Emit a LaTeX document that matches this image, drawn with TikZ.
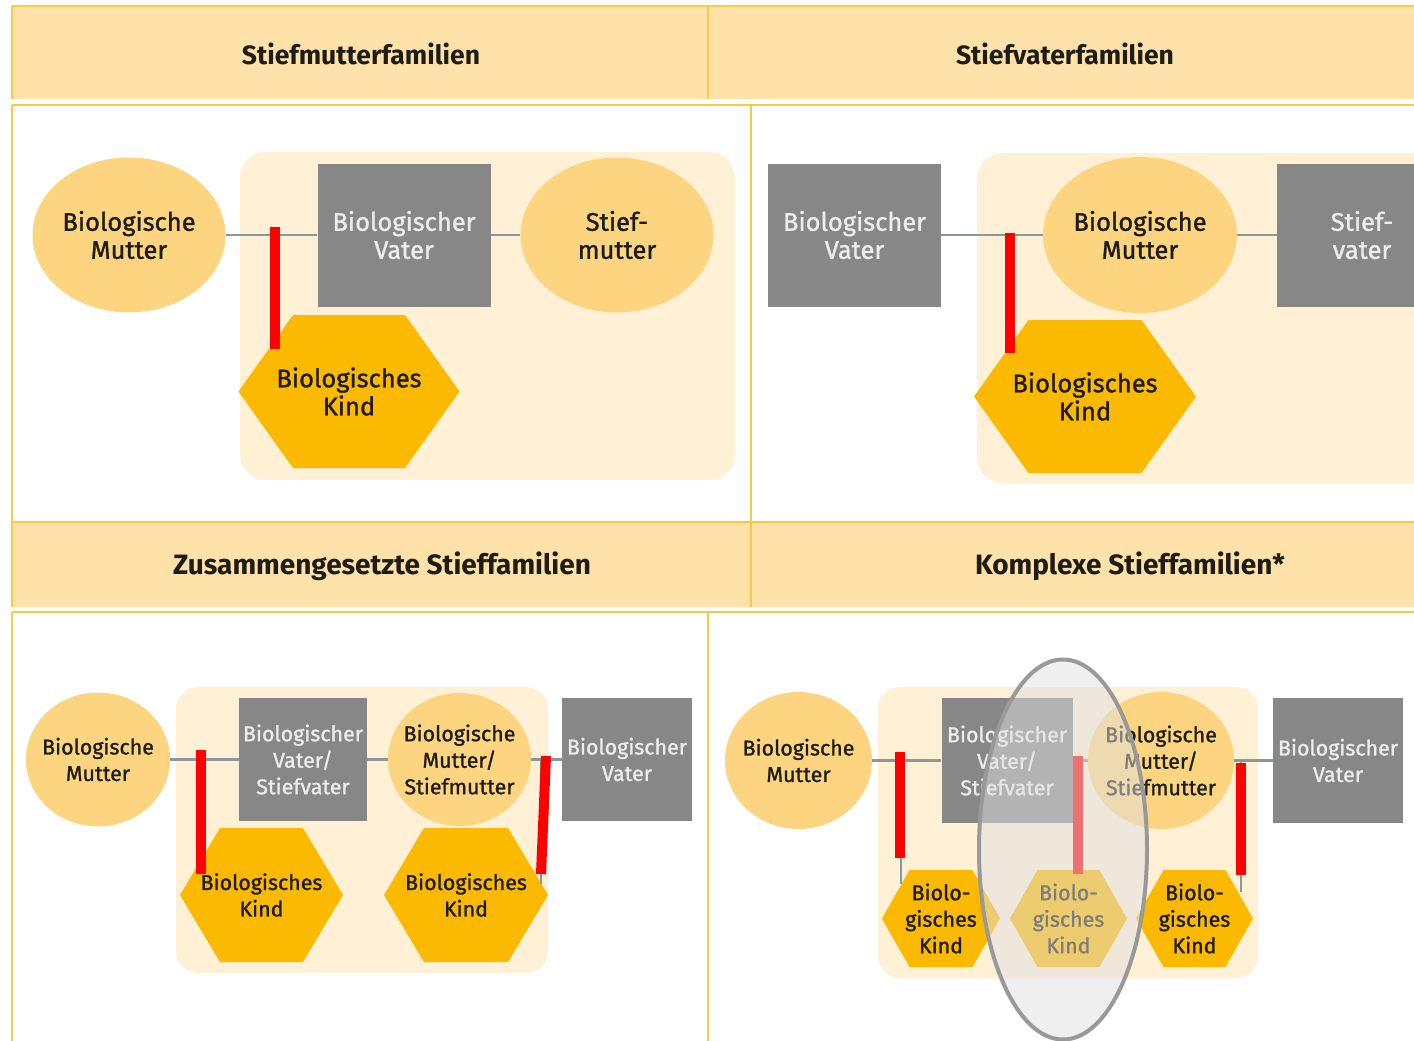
\documentclass[tikz,border=0pt]{standalone}
\usepackage{fontspec}
\setmainfont{Fira Sans}[FakeBold=1.2]
\newfontfamily\titelfont{Fira Sans}
\usetikzlibrary{shapes.geometric,calc}

\definecolor{cRahmen}{RGB}{252,200,70}
\definecolor{cKopf}{RGB}{254,226,170}
\definecolor{cFamilie}{RGB}{255,240,214}
\definecolor{cFrau}{RGB}{253,213,128}
\definecolor{cKind}{RGB}{251,185,0}
\definecolor{cMann}{RGB}{135,135,135}
\definecolor{cMannText}{RGB}{236,236,236}
\definecolor{cLinie}{RGB}{140,150,157}
\definecolor{cText}{RGB}{30,28,20}

\newcommand{\schriftgross}{\fontsize{25.5}{28}\selectfont}
\newcommand{\schriftklein}{\fontsize{21.4}{26.5}\selectfont}

\tikzset{
    gitter/.style={draw=cRahmen, line width=2pt},
    titel/.style={font=\titelfont\bfseries\fontsize{26.5}{28}\selectfont, text=cText},
    familienbox/.style={fill=cFamilie, rounded corners=26pt},
    frau/.style={ellipse, fill=cFrau, inner xsep=-15pt, inner ysep=0pt, align=center, text=cText},
    mann/.style={rectangle, fill=cMann, inner sep=0pt, align=center, text=cMannText},
    kindhex/.style={rectangle, inner sep=0pt, align=center, text=cText,
        path picture={
            \fill[cKind] (path picture bounding box.west)
                -- ($(path picture bounding box.north west)+(#1,0)$)
                -- ($(path picture bounding box.north east)+(-#1,0)$)
                -- (path picture bounding box.east)
                -- ($(path picture bounding box.south east)+(-#1,0)$)
                -- ($(path picture bounding box.south west)+(#1,0)$)
                -- cycle;
        }},
    ehe/.style={draw=cLinie, line width=2.5pt},
    abstammung/.style={draw=cLinie, line width=1.5pt},
    markiert/.style={draw=red, line width=10pt},
    schleier/.style={ellipse, draw=black!40, line width=4pt, fill=black!12, fill opacity=0.5},
}

\begin{document}
\begin{tikzpicture}[x=1pt, y=-1pt]
    \useasboundingbox (0,0) rectangle (1414,1041);
    \clip (0,0) rectangle (1414,1041);
    \fill[white] (0,0) rectangle (1414,1041);

    \fill[cKopf] (12,6) rectangle (1414,99);
    \fill[cKopf] (12,522) rectangle (1414,607);
    \draw[gitter] (12,6) -- (1414,6);
    \draw[gitter] (12,105) -- (1414,105);
    \draw[gitter] (12,522) -- (1414,522);
    \draw[gitter] (12,612) -- (1414,612);
    \draw[gitter] (12,6) -- (12,99);
    \draw[gitter] (12,105) -- (12,607);
    \draw[gitter] (12,612) -- (12,1041);
    \draw[gitter] (708,6) -- (708,99);
    \draw[gitter] (751,105) -- (751,607);
    \draw[gitter] (708,612) -- (708,1041);

    \node[titel] (kopf-sm) at (361,54) {Stiefmutterfamilien};
    \node[titel] (kopf-sv) at (1065,54) {Stiefvaterfamilien};
    \node[titel, font=\titelfont\bfseries\fontsize{28}{30}\selectfont] (kopf-zs) at (382,566) {Zusammengesetzte Stieffamilien};
    \node[titel, font=\titelfont\bfseries\fontsize{28}{30}\selectfont] (kopf-ks) at (1130,566) {Komplexe Stieffamilien*};

    \begin{scope}[name prefix = sm-, font=\schriftgross]
        \fill[familienbox] (240,152) rectangle (735,480);
        \node[frau, minimum width=193pt, minimum height=155pt] (mutter) at (129,235) {Biologische\\Mutter};
        \node[mann, minimum width=173pt, minimum height=143pt] (vater) at (404,235) {Biologischer\\Vater};
        \node[frau, minimum width=193pt, minimum height=155pt] (stief) at (617,235) {Stief-\\mutter};
        \node[kindhex=54.5, minimum width=221pt, minimum height=153pt] (kind) at (349,391.5) {Biologisches\\Kind};
        \coordinate (ast) at (275,227);
        \coordinate (astende) at (275,349);
        \draw[ehe] (mutter) -- (vater);
        \draw[ehe] (vater) -- (stief);
        \draw[markiert] (ast) -- (astende);
    \end{scope}

    \begin{scope}[name prefix = sv-, font=\schriftgross]
        \fill[familienbox] (977,153) rectangle (1460,483);
        \node[mann, minimum width=173pt, minimum height=143pt] (vater) at (854.5,235) {Biologischer\\Vater};
        \node[frau, minimum width=194pt, minimum height=156pt] (mutter) at (1140,235) {Biologische\\Mutter};
        \node[mann, minimum width=170pt, minimum height=143pt] (stief) at (1362,235) {Stief-\\vater};
        \node[kindhex=54.5, minimum width=222pt, minimum height=153pt] (kind) at (1085,396.5) {Biologisches\\Kind};
        \coordinate (ast) at (1010,233);
        \coordinate (astende) at (1010,353);
        \draw[ehe] (vater) -- (mutter);
        \draw[ehe] (mutter) -- (stief);
        \draw[markiert] (ast) -- (astende);
    \end{scope}

    \begin{scope}[name prefix = zs-, font=\schriftklein]
        \fill[familienbox, rounded corners=22pt] (176,687) rectangle (548,973);
        \node[frau, minimum width=144pt, minimum height=134pt] (mutter) at (98,759.5) {Biologische\\Mutter};
        \node[mann, minimum width=128pt, minimum height=123pt] (vater) at (303,759.5) {Biologischer\\Vater/\\Stiefvater};
        \node[frau, minimum width=143pt, minimum height=133pt] (stief) at (459.5,759.5) {Biologische\\Mutter/\\Stiefmutter};
        \node[mann, minimum width=130pt, minimum height=123pt] (vater2) at (627,759.5) {Biologischer\\Vater};
        \node[kindhex=40, minimum width=163pt, minimum height=134pt] (kind1) at (261.5,895) {Biologisches\\Kind};
        \node[kindhex=40, minimum width=164pt, minimum height=134pt] (kind2) at (466,895) {Biologisches\\Kind};
        \coordinate (ast1) at (201,750);
        \coordinate (ast1ende) at (201,874);
        \coordinate (ast2) at (541,759.5);
        \coordinate (ast2ende) at (541,884);
        \draw[ehe] (mutter) -- (vater);
        \draw[ehe] (vater) -- (stief);
        \draw[ehe] (stief) -- (vater2);
        \draw[abstammung] (ast2) -- (ast2ende);
        \draw[markiert] (ast1) -- (ast1ende);
        \draw[markiert] (546,756) -- (541,874);
    \end{scope}

    \begin{scope}[name prefix = ks-, font=\schriftklein]
        \fill[familienbox, rounded corners=22pt] (878,687) rectangle (1258,978);
        \node[frau, minimum width=147pt, minimum height=137pt] (mutter) at (798.5,760.5) {Biologische\\Mutter};
        \node[mann, minimum width=131pt, minimum height=125pt] (vater) at (1007,760.5) {Biologischer\\Vater/\\Stiefvater};
        \node[frau, minimum width=146pt, minimum height=137pt] (stief) at (1161,760.5) {Biologische\\Mutter/\\Stiefmutter};
        \node[mann, minimum width=130pt, minimum height=125pt] (vater2) at (1338,760.5) {Biologischer\\Vater};
        \node[kindhex=27.5, minimum width=118pt, minimum height=97pt] (kind1) at (941,918.5) {Biolo-\\gisches\\Kind};
        \node[kindhex=27.5, minimum width=117pt, minimum height=97pt] (kind2) at (1068.5,918.5) {Biolo-\\gisches\\Kind};
        \node[kindhex=27.5, minimum width=117pt, minimum height=97pt] (kind3) at (1194.5,918.5) {Biolo-\\gisches\\Kind};
        \coordinate (ast1) at (901,760.5);
        \coordinate (ast1ende) at (901,884);
        \coordinate (ast3) at (1241,760.5);
        \coordinate (ast3ende) at (1241,892);
        \draw[ehe] (mutter) -- (vater);
        \draw[ehe] (vater) -- (stief);
        \draw[ehe] (stief) -- (vater2);
        \draw[abstammung] (ast1) -- (ast1ende);
        \draw[abstammung] (ast3) -- (ast3ende);
        \draw[markiert] (900,752) -- (900,858);
        \draw[markiert] (1078,756) -- (1078,874);
        \draw[markiert] (1241,763) -- (1241,875);
        \node[schleier, minimum width=168pt, minimum height=380pt] (fokus) at (1063,849.5) {};
    \end{scope}
\end{tikzpicture}
\end{document}
